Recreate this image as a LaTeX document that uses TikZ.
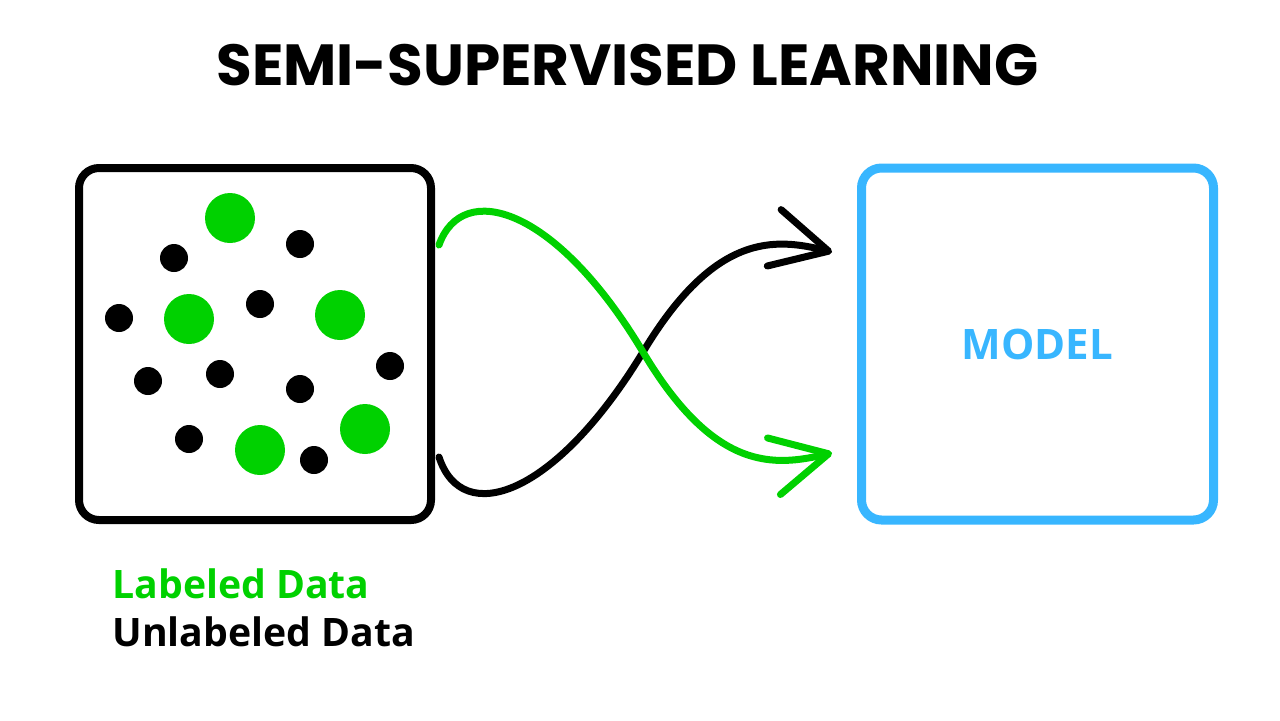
\documentclass[tikz,border=0pt]{standalone}
\usepackage{fontspec}
\usepackage{tikz}
\usetikzlibrary{arrows.meta,calc}
\newfontfamily\titlefont{Poppins}
\newfontfamily\labelfont{Open Sans}
\definecolor{lgreen}{RGB}{0,209,0}
\definecolor{mblue}{RGB}{56,182,255}

\begin{document}
\begin{tikzpicture}[x=0.5pt,y=-0.5pt,
  box/.style={draw,line width=4pt,rounded corners=10pt,minimum size=176pt,inner sep=0pt},
  ldot/.style={circle,fill=lgreen,minimum size=25pt,inner sep=0pt},
  udot/.style={circle,fill=black,minimum size=14pt,inner sep=0pt},
  legend/.style={font=\labelfont\bfseries\fontsize{19.6}{22}\selectfont,inner sep=0pt,anchor=base west},
  flow/.style={line width=3.5pt,line cap=round,-{Straight Barb[length=28pt,width=29pt,round]}}]
  \useasboundingbox (0,0) rectangle (1280,720);
  \node[font=\titlefont\bfseries\fontsize{29}{31}\selectfont] (title) at (627.5,65) {SEMI-SUPERVISED LEARNING};
  % data and model
  \node[box] (data) at (255,344) {};
  \node[box,draw=mblue,line width=4.5pt,text=mblue,font=\labelfont\bfseries\fontsize{21}{24}\selectfont] (model) at (1037.5,344) {MODEL};
  % labeled points
  \node[ldot] (l1) at (230,218) {};
  \node[ldot] (l2) at (189,319) {};
  \node[ldot] (l3) at (340,315) {};
  \node[ldot] (l4) at (365,429) {};
  \node[ldot] (l5) at (260,450) {};
  % unlabeled points
  \node[udot] (u1) at (174,258) {};
  \node[udot] (u2) at (300,244) {};
  \node[udot] (u3) at (119,318) {};
  \node[udot] (u4) at (260,304) {};
  \node[udot] (u5) at (148,381) {};
  \node[udot] (u6) at (220,374) {};
  \node[udot] (u7) at (300,389) {};
  \node[udot] (u8) at (390,366) {};
  \node[udot] (u9) at (189,439) {};
  \node[udot] (u10) at (314,460) {};
  \node[legend,text=lgreen] (ltext) at (112,598) {Labeled Data};
  \node[legend] (utext) at (112,646) {Unlabeled Data};
  % crossing arrows
  \coordinate (gs) at ($(data.east)+(4,-99)$);
  \coordinate (bs) at ($(data.east)+(4,113)$);
  \coordinate (ge) at ($(model.west)+(-25,109)$);
  \coordinate (be) at ($(model.west)+(-25,-92)$);
  \draw[flow] (bs) .. controls (462,528) and (555,497) .. (643,352)
                   .. controls (715,232) and (775,238) .. (be);
  \draw[flow,lgreen] (gs) .. controls (462,180) and (555,205) .. (643,352)
                   .. controls (715,473) and (775,466) .. (ge);
\end{tikzpicture}
\end{document}
